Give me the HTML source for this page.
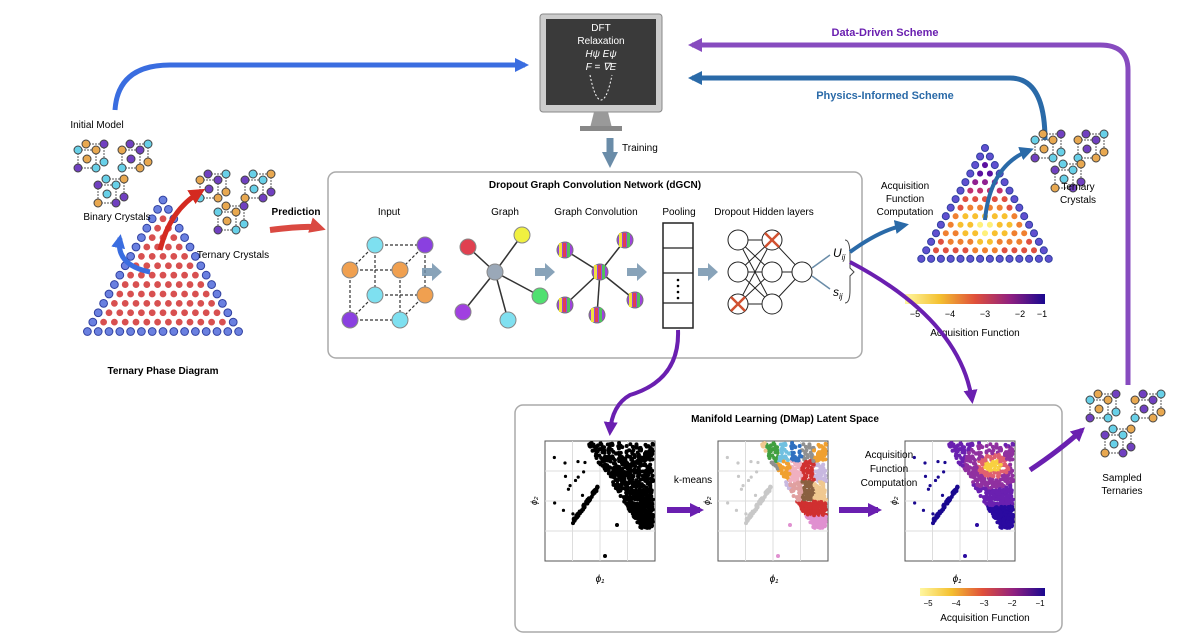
<!DOCTYPE html><html><head><meta charset="utf-8"><style>
body{margin:0;background:#fff}svg{display:block}
text{font-family:"Liberation Sans",sans-serif}
</style></head><body>
<svg id="s" width="1191" height="642" viewBox="0 0 1191 642" xmlns="http://www.w3.org/2000/svg">
<defs>
<linearGradient id="cb" x1="0" x2="1"><stop offset="0" stop-color="#fff7a0"/><stop offset=".25" stop-color="#f4c030"/><stop offset=".5" stop-color="#e0503a"/><stop offset=".75" stop-color="#902080"/><stop offset="1" stop-color="#1a0890"/></linearGradient>
<marker id="ap" markerWidth="14" markerHeight="14" refX="10" refY="7" orient="auto" markerUnits="userSpaceOnUse"><path d="M0,0L14,7L0,14z" fill="#6a1fb0"/></marker>
<marker id="at" markerWidth="14" markerHeight="14" refX="10" refY="7" orient="auto" markerUnits="userSpaceOnUse"><path d="M0,0L14,7L0,14z" fill="#2a6aa8"/></marker>
<marker id="abl" markerWidth="14" markerHeight="14" refX="10" refY="7" orient="auto" markerUnits="userSpaceOnUse"><path d="M0,0L14,7L0,14z" fill="#3a6de0"/></marker>
<marker id="ar" markerWidth="16" markerHeight="16" refX="10" refY="8" orient="auto" markerUnits="userSpaceOnUse"><path d="M0,0L16,8L0,16z" fill="#d42a20"/></marker>
<marker id="ag" markerWidth="16" markerHeight="16" refX="8" refY="8" orient="auto" markerUnits="userSpaceOnUse"><path d="M0,0L16,8L0,16z" fill="#6a8ca8"/></marker>
</defs>
<path d="M115,110 Q118,65 170,65 L525,65" fill="none" stroke="#3a6de0" stroke-width="5" marker-end="url(#abl)"/>
<path d="M1128,385 L1128,70 Q1128,45 1100,45 L692,45" fill="none" stroke="#6a1fb0" stroke-width="5" opacity=".8" marker-end="url(#ap)"/>
<path d="M1045,140 Q1045,78 1010,78 L692,78" fill="none" stroke="#2a6aa8" stroke-width="5" marker-end="url(#at)"/>
<text x="885" y="36" font-size="11" font-weight="bold" fill="#6a1fb0" text-anchor="middle">Data-Driven Scheme</text>
<text x="885" y="99" font-size="11" font-weight="bold" fill="#2a6aa8" text-anchor="middle">Physics-Informed Scheme</text>
<rect x="540" y="14" width="122" height="98" rx="3" fill="#ccc" stroke="#888"/>
<rect x="546" y="19" width="110" height="86" fill="#3a3a3a"/>
<path d="M590,128 L612,128 L608,112 L594,112z" fill="#999"/><rect x="580" y="126" width="42" height="5" fill="#888"/>
<g fill="#fff" font-size="10" text-anchor="middle"><text x="601" y="31">DFT</text><text x="601" y="44">Relaxation</text>
<text x="601" y="57" font-family="Liberation Serif" font-style="italic">Hψ    Eψ</text><text x="601" y="70" font-family="Liberation Serif" font-style="italic">F =  ∇E</text></g>
<path d="M590,75 Q595,100 601,100 Q607,100 612,75" fill="none" stroke="#fff" stroke-dasharray="2,2"/>
<path d="M610,138 L610,160" stroke="#6a8ca8" stroke-width="7" marker-end="url(#ag)"/>
<text x="622" y="151" font-size="10">Training</text>
<rect x="328" y="172" width="534" height="186" rx="8" fill="#fff" stroke="#aaa" stroke-width="1.5"/>
<text x="595" y="188" font-size="10" font-weight="bold" text-anchor="middle">Dropout Graph Convolution Network (dGCN)</text>
<g font-size="10" text-anchor="middle"><text x="389" y="215">Input</text><text x="505" y="215">Graph</text><text x="596" y="215">Graph Convolution</text><text x="679" y="215">Pooling</text><text x="764" y="215">Dropout Hidden layers</text></g>
<rect x="515" y="405" width="547" height="227" rx="8" fill="#fff" stroke="#aaa" stroke-width="1.5"/>
<text x="785" y="422" font-size="10" font-weight="bold" text-anchor="middle">Manifold Learning (DMap) Latent Space</text>
<g id="g"></g>
<g font-size="10" text-anchor="middle">
<text x="97" y="128">Initial Model</text>
<text x="117" y="220">Binary Crystals</text>
<text x="233" y="258">Ternary Crystals</text>
<text x="296" y="215" font-weight="bold">Prediction</text>
<text x="163" y="374" font-weight="bold">Ternary Phase Diagram</text>
<text x="905" y="189">Acquisition</text><text x="905" y="202">Function</text><text x="905" y="215">Computation</text>
<text x="1078" y="190">Ternary</text><text x="1078" y="203">Crystals</text>
<text x="975" y="336">Acquisition Function</text>
<text x="1122" y="481">Sampled</text><text x="1122" y="494">Ternaries</text>
<text x="693" y="483">k-means</text>
<text x="889" y="458">Acquisition</text><text x="889" y="472">Function</text><text x="889" y="486">Computation</text>
<text x="985" y="621">Acquisition Function</text>
<text x="600" y="582" font-family="Liberation Serif" font-style="italic">ϕ₁</text>
<text x="774" y="582" font-family="Liberation Serif" font-style="italic">ϕ₁</text>
<text x="957" y="582" font-family="Liberation Serif" font-style="italic">ϕ₁</text>
</g>
<rect x="905" y="294" width="140" height="10" fill="url(#cb)"/>
<g font-size="9" text-anchor="middle"><text x="915" y="317">−5</text><text x="950" y="317">−4</text><text x="985" y="317">−3</text><text x="1020" y="317">−2</text><text x="1042" y="317">−1</text></g>
<rect x="920" y="588" width="125" height="8" fill="url(#cb)"/>
<g font-size="8" text-anchor="middle"><text x="928" y="606">−5</text><text x="956" y="606">−4</text><text x="984" y="606">−3</text><text x="1012" y="606">−2</text><text x="1040" y="606">−1</text></g>
<path d="M270,230 Q310,225 320,228" fill="none" stroke="#d42a20" stroke-width="6" opacity=".85" marker-end="url(#ar)"/>
<path d="M160,250 Q170,210 200,192" fill="none" stroke="#d42a20" stroke-width="5" marker-end="url(#ar)"/>
<path d="M150,272 Q115,265 120,238" fill="none" stroke="#3a6de0" stroke-width="5" marker-end="url(#abl)"/>
<path d="M850,252 Q880,230 905,225" fill="none" stroke="#2a6aa8" stroke-width="4" marker-end="url(#at)"/>
<path d="M985,220 Q990,165 1030,150" fill="none" stroke="#2a6aa8" stroke-width="4" marker-end="url(#at)"/>
<path d="M850,262 Q960,320 972,400" fill="none" stroke="#6a1fb0" stroke-width="4" marker-end="url(#ap)"/>
<path d="M678,330 Q680,380 630,395 Q612,405 610,432" fill="none" stroke="#6a1fb0" stroke-width="4" marker-end="url(#ap)"/>
<path d="M1030,470 Q1060,450 1082,430" fill="none" stroke="#6a1fb0" stroke-width="5" marker-end="url(#ap)"/>
<path d="M667,510 L700,510" stroke="#6a1fb0" stroke-width="6" marker-end="url(#ap)"/>
<path d="M839,510 L878,510" stroke="#6a1fb0" stroke-width="6" marker-end="url(#ap)"/>
</svg>
<script>
var g=document.getElementById('g'),h='';
function c(x,y,r,f,s){h+='<circle cx="'+x+'" cy="'+y+'" r="'+r+'" fill="'+f+'" stroke="'+(s||'none')+'" stroke-width="1"/>';}
function l(a,b,c2,d,st,w,da){h+='<line x1="'+a+'" y1="'+b+'" x2="'+c2+'" y2="'+d+'" stroke="'+st+'" stroke-width="'+(w||1)+'"'+(da?' stroke-dasharray="'+da+'"':'')+'/>';}
function tri(ax,ay,n,sp,fill,edge){for(var r=0;r<n;r++){for(var k=0;k<=r;k++){var x=ax-r*sp/2+k*sp,y=ay+r*sp*0.87;var e=(r==n-1||k==0||k==r);var f=e?edge:fill(r,k,n);c(x,y,sp*0.36,f,e?'#3040a0':'#fff');}}}
tri(163,200,15,10.8,function(){return '#d85050'},'#6a80e0');
var pal=['#fff07a','#f8c030','#f08030','#e05040','#c03070','#902090','#5a10a0'];
tri(985,148,14,9.8,function(r,k,n){var x=(k/(r||1))-.5,y=r/n-.65;var d=Math.sqrt(x*x*0.8+y*y*4);return pal[Math.min(6,Math.floor(d*7))]},'#6050d0');
function cry(x,y,s){var cs=['#68d0e8','#e8a850','#7040c0'];l(x,y,x+18,y,'#555',1,'2,1');l(x,y,x,y+18,'#555',1,'2,1');l(x+18,y,x+18,y+18,'#555',1,'2,1');l(x,y+18,x+18,y+18,'#555',1,'2,1');l(x+8,y-6,x+26,y-6,'#555',1,'2,1');l(x+26,y-6,x+26,y+12,'#555',1,'2,1');
var p=[[x,y],[x+18,y],[x,y+18],[x+18,y+18],[x+8,y-6],[x+26,y-6],[x+26,y+12],[x+9,y+9]];p.forEach(function(q,i){c(q[0],q[1],4,cs[(i+s)%3],'#444');});}
[[78,150,0],[122,150,1],[98,185,2],[200,180,1],[245,180,2],[218,212,0],[1035,140,0],[1078,140,1],[1055,170,2],[1090,400,0],[1135,400,1],[1105,435,2]].forEach(function(a){cry(a[0],a[1],a[2]);});
var P=[[375,245],[425,245],[350,270],[400,270],[375,295],[425,295],[350,320],[400,320]],C=['#7ee0f0','#8a40e0','#f0a050','#f0a050','#7ee0f0','#f0a050','#8a40e0','#7ee0f0'];
[[0,1],[0,4],[1,5],[4,5],[2,3],[2,6],[3,7],[6,7],[0,2],[1,3],[4,6],[5,7]].forEach(function(e){l(P[e[0]][0],P[e[0]][1],P[e[1]][0],P[e[1]][1],'#333',1.2,'3,2')});
P.forEach(function(q,i){c(q[0],q[1],8,C[i],'#888')});
var Gc=[[468,247,'#e04050'],[522,235,'#f0f040'],[463,312,'#a040e0'],[540,296,'#50e070'],[508,320,'#80e0f0']];
Gc.forEach(function(q){l(495,272,q[0],q[1],'#333',1.5)});Gc.forEach(function(q){c(q[0],q[1],8,q[2],'#888')});c(495,272,8,'#9aa8b8','#888');
var Gv=[[565,250],[625,240],[565,305],[635,300],[597,315]];
function strip(x,y){c(x,y,8,'#a040e0','#777');h+='<rect x="'+(x-6)+'" y="'+(y-7)+'" width="3" height="14" fill="#f0e040"/><rect x="'+(x-2)+'" y="'+(y-7)+'" width="3" height="14" fill="#e04050"/><rect x="'+(x+2)+'" y="'+(y-7)+'" width="3" height="14" fill="#50c060"/>';}
Gv.forEach(function(q){l(600,272,q[0],q[1],'#333',1.5)});Gv.forEach(function(q){strip(q[0],q[1])});strip(600,272);
h+='<rect x="663" y="223" width="30" height="105" fill="#fff" stroke="#222" stroke-width="1.5"/>';[248,273,303].forEach(function(y){l(663,y,693,y,'#222',1.2)});
[280,286,292,298].forEach(function(y){c(678,y,1.3,'#000')});
[[427,272],[540,272],[632,272],[703,272]].forEach(function(a){h+='<path d="M'+(a[0]-5)+','+(a[1]-4)+'L'+(a[0]+5)+','+(a[1]-4)+'L'+(a[0]+5)+','+(a[1]-9)+'L'+(a[0]+15)+','+a[1]+'L'+(a[0]+5)+','+(a[1]+9)+'L'+(a[0]+5)+','+(a[1]+4)+'L'+(a[0]-5)+','+(a[1]+4)+'z" fill="#6a8ca8" opacity=".8"/>'});
var L1=[[738,240],[738,272],[738,304]],L2=[[772,240],[772,272],[772,304]],O=[802,272];
L1.forEach(function(a){L2.forEach(function(b){l(a[0],a[1],b[0],b[1],'#222',1)})});L2.forEach(function(b){l(b[0],b[1],O[0],O[1],'#222',1)});
L1.concat(L2).concat([O]).forEach(function(q){c(q[0],q[1],10,'#fff','#222')});
[[772,240],[738,304]].forEach(function(q){l(q[0]-7,q[1]-7,q[0]+7,q[1]+7,'#d05030',2.5);l(q[0]+7,q[1]-7,q[0]-7,q[1]+7,'#d05030',2.5)});
l(812,268,830,255,'#6a8ca8',1.5);l(812,276,830,289,'#6a8ca8',1.5);
h+='<text x="833" y="257" font-size="12" font-family="Liberation Serif" font-style="italic">U<tspan font-size="8" dy="3">ij</tspan></text><text x="833" y="296" font-size="12" font-family="Liberation Serif" font-style="italic">s<tspan font-size="8" dy="3">ij</tspan></text>';
h+='<path d="M845,240 Q850,240 850,255 L850,268 L854,272 L850,276 L850,290 Q850,303 845,303" fill="none" stroke="#444"/>';
function plot(x0,col){h+='<rect x="'+x0+'" y="441" width="110" height="120" fill="#fff" stroke="#555"/>';for(var i=1;i<4;i++){l(x0+i*27.5,441,x0+i*27.5,561,'#ddd');l(x0,441+i*30,x0+110,441+i*30,'#ddd');}
h+='<text x="'+(x0-8)+'" y="505" font-size="9" font-family="Liberation Serif" font-style="italic" transform="rotate(-90 '+(x0-8)+' 505)">ϕ₂</text>';
var r2=(function(){var s=11;return function(){s=(s*16807)%2147483647;return s/2147483647}})();
for(var i=0;i<700;i++){var u=r2(),v=r2();var y=443+v*85,w=(1-v)*55+12;var x=x0+108-u*w;var cc=col(x-x0,y-441);c(x,y,2,cc);}
for(var i=0;i<60;i++){var t=r2();c(x0+28+t*25,520-t*35+r2()*4,2,col(20,100));}
for(var i=0;i<15;i++){c(x0+5+r2()*40,455+r2()*60,1.6,col(20,100));}
c(x0+72,525,2,col(72,85));c(x0+60,556,2,col(60,118));}
plot(545,function(){return '#000'});
var km=['#c8b8e0','#e0a0a0','#8a6040','#f0c890','#40a040','#70c0e0','#3070c0','#909090','#f0a030','#f0b0c0','#d03030','#e090d0'];
plot(718,function(x,y){if(x<45&&y>60)return '#c8c8c8';if(y>75)return '#e090d0';if(y>60)return '#d03030';var i=Math.floor(x/12)+Math.floor(y/20)*3;return km[i%11]});
plot(905,function(x,y){if(x<45&&y>60)return '#1a0890';var d=Math.hypot(x-88,(y-25)*1.3);if(d<8)return '#f8d040';if(d<16)return '#e06070';if(d<30)return '#9030a0';if(y>65)return '#2a0aa0';return '#6a20b0'});
g.innerHTML=h;
</script>
</body></html>
